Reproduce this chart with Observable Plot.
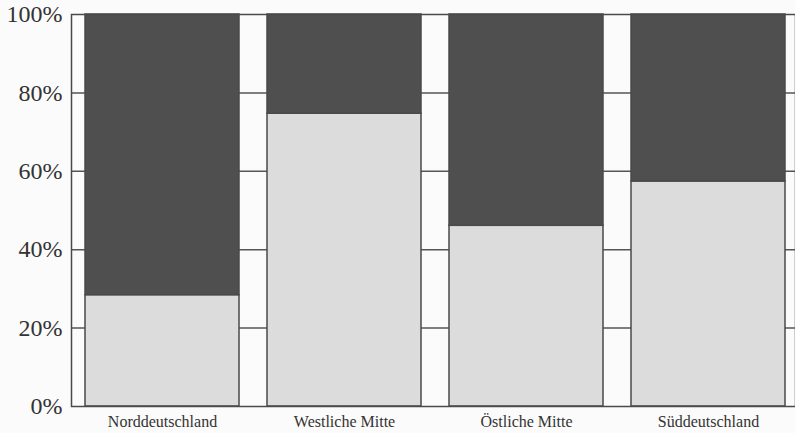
<!DOCTYPE html>
<html>
<head>
<meta charset="utf-8">
<script src="https://cdn.jsdelivr.net/npm/d3@7"></script>
<script src="https://cdn.jsdelivr.net/npm/@observablehq/plot@0.6"></script>
<style>
  html, body { margin: 0; padding: 0; background: #fbfbfb; }
  #chart { width: 795px; height: 433px; }
</style>
</head>
<body>
<div id="chart"></div>
<script>
const regions = ["Norddeutschland", "Westliche Mitte", "Östliche Mitte", "Süddeutschland"];
const lightShare = [28.4, 74.7, 46.1, 57.4];
const darkShare = [71.6, 25.3, 53.9, 42.6];
const yTicks = [0, 20, 40, 60, 80, 100];
const gridTicks = [20, 40, 60, 80];

const rows = [];
regions.forEach((r, i) => {
  rows.push({region: r, part: "light", value: lightShare[i]});
  rows.push({region: r, part: "dark", value: darkShare[i]});
});

const chart = Plot.plot({
  width: 795,
  height: 433,
  marginLeft: 71,
  marginRight: 0,
  marginTop: 14,
  marginBottom: 27,
  style: {fontFamily: "'Liberation Serif', 'DejaVu Serif', serif", color: "#333", background: "#fbfbfb"},
  x: {domain: regions, range: [71, 799], paddingInner: 28 / 182, paddingOuter: 13 / 182, label: null},
  y: {domain: [0, 100], label: null},
  color: {domain: ["light", "dark"], range: ["#dcdcdc", "#4f4f4f"]},
  marks: [
    Plot.ruleY(gridTicks, {stroke: "#555", strokeWidth: 1.5}),
    Plot.barY(rows, {x: "region", y: "value", fill: "part", order: ["light", "dark"], stroke: "#4a4a4a", strokeWidth: 1.5}),
    Plot.frame({stroke: "#4a4a4a", strokeWidth: 1.5}),
    Plot.axisY({ticks: yTicks, tickFormat: d => d + "%", tickSize: 0, tickPadding: 9, fontSize: 24, fill: "#333", label: null}),
    Plot.axisX({tickSize: 0, tickPadding: 9, fontSize: 16, fill: "#333", label: null})
  ]
});
document.getElementById("chart").appendChild(chart);
</script>
</body>
</html>
